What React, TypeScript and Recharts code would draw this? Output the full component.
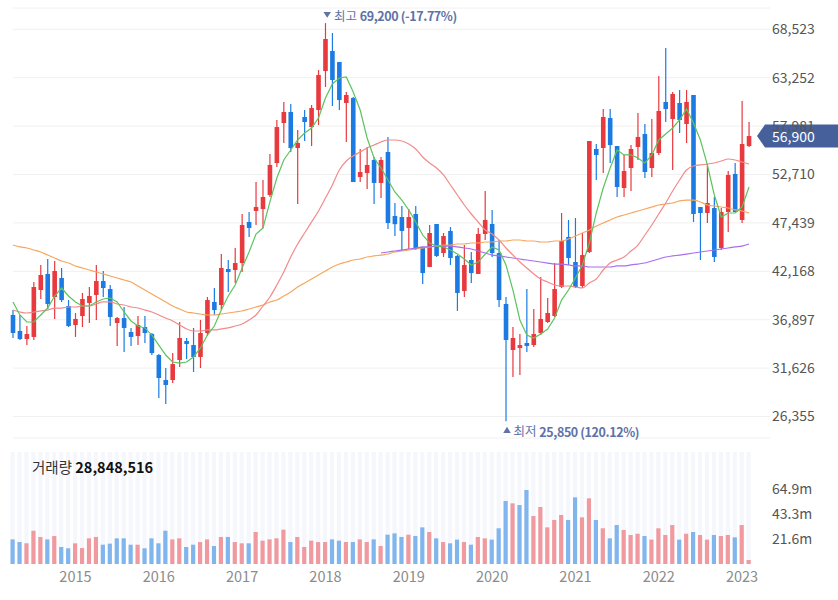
import React from 'react';
import {
  ComposedChart,
  Bar,
  Line,
  XAxis,
  YAxis,
  CartesianGrid,
  ReferenceDot,
  Cell
} from 'recharts';

// monthly candles, Apr 2014 .. Feb 2023
const months = [
  '2014-04', '2014-05', '2014-06', '2014-07', '2014-08', '2014-09', '2014-10', '2014-11', '2014-12',
  '2015-01', '2015-02', '2015-03', '2015-04', '2015-05', '2015-06', '2015-07', '2015-08', '2015-09', '2015-10', '2015-11', '2015-12',
  '2016-01', '2016-02', '2016-03', '2016-04', '2016-05', '2016-06', '2016-07', '2016-08', '2016-09', '2016-10', '2016-11', '2016-12',
  '2017-01', '2017-02', '2017-03', '2017-04', '2017-05', '2017-06', '2017-07', '2017-08', '2017-09', '2017-10', '2017-11', '2017-12',
  '2018-01', '2018-02', '2018-03', '2018-04', '2018-05', '2018-06', '2018-07', '2018-08', '2018-09', '2018-10', '2018-11', '2018-12',
  '2019-01', '2019-02', '2019-03', '2019-04', '2019-05', '2019-06', '2019-07', '2019-08', '2019-09', '2019-10', '2019-11', '2019-12',
  '2020-01', '2020-02', '2020-03', '2020-04', '2020-05', '2020-06', '2020-07', '2020-08', '2020-09', '2020-10', '2020-11', '2020-12',
  '2021-01', '2021-02', '2021-03', '2021-04', '2021-05', '2021-06', '2021-07', '2021-08', '2021-09', '2021-10', '2021-11', '2021-12',
  '2022-01', '2022-02', '2022-03', '2022-04', '2022-05', '2022-06', '2022-07', '2022-08', '2022-09', '2022-10', '2022-11', '2022-12',
  '2023-01', '2023-02'
];

const opens = [
  37410, 35670, 34800, 35020, 40130, 41880, 39370, 41440, 38390, 36320,
  37300, 38720, 39590, 41110, 40240, 36540, 37080, 35560, 35120, 36100,
  35340, 33050, 30330, 30330, 32510, 34580, 34140, 32840, 35450, 38830,
  38500, 42420, 42310, 43070, 47540, 48740, 48950, 50480, 53960, 58320,
  59520, 55600, 58970, 57880, 59740, 63980, 66160, 64960, 60500, 61040,
  52440, 52870, 54290, 51790, 55160, 48190, 48080, 46890, 48410, 44820,
  42640, 47320, 44160, 46560, 43840, 40020, 43400, 41880, 46230, 47320,
  44160, 38610, 33600, 33820, 34360, 34140, 35450, 36650, 37300, 40460,
  45910, 43180, 40570, 44270, 55490, 55600, 58860, 55810, 51240, 53420,
  55710, 57120, 53420, 55050, 60610, 58750, 60500, 58210, 61370, 49170,
  48520, 49060, 44710, 48630, 52770, 47760, 55810
];

const highs = [
  37950, 37410, 36210, 41000, 42860, 43510, 43290, 42530, 39040, 37630,
  39810, 40460, 42860, 42200, 40680, 37190, 38280, 36000, 37300, 37300,
  35450, 33160, 31640, 33270, 36650, 34910, 36000, 36870, 39370, 40350,
  44050, 43400, 44710, 48410, 48630, 51890, 52110, 54940, 58650, 60610,
  60390, 57560, 59740, 60280, 64090, 69200, 68120, 64960, 61700, 61150,
  55500, 55710, 54620, 54620, 56800, 49610, 49280, 48950, 49280, 44820,
  47210, 47320, 46340, 46990, 43940, 45030, 44270, 46890, 50910, 48850,
  45580, 39370, 36100, 35340, 40240, 38060, 41550, 39260, 43070, 48520,
  47760, 47970, 46340, 56360, 56030, 59840, 59840, 55810, 54840, 55920,
  59410, 58210, 58750, 63440, 66490, 61700, 61910, 61910, 61370, 49170,
  53850, 50260, 49060, 53090, 53960, 60720, 58430
];

const lows = [
  34910, 34690, 34140, 34690, 39150, 38060, 36980, 38830, 36100, 35020,
  36100, 36540, 36870, 39370, 36210, 34040, 33380, 34040, 34140, 34360,
  33050, 28370, 27720, 30010, 31750, 32620, 31200, 31640, 35120, 37410,
  37950, 39920, 40900, 42090, 45910, 47210, 46890, 50260, 53530, 56140,
  55160, 49500, 56360, 55810, 58100, 62240, 60170, 59740, 56250, 51890,
  51890, 51130, 49500, 50150, 46780, 46010, 44380, 44600, 44490, 40790,
  42640, 43730, 43730, 42860, 37850, 39370, 40900, 41880, 45580, 43730,
  38280, 25850, 30660, 30880, 33380, 33930, 35230, 36540, 37190, 40350,
  42860, 40350, 40350, 44160, 52110, 52870, 53960, 50260, 50260, 50910,
  54290, 52330, 52440, 54840, 58430, 53200, 57230, 56140, 47540, 43400,
  47430, 43180, 44490, 46450, 48630, 47430, 55700
];

const closes = [
  35450, 34800, 35340, 40460, 41770, 38610, 42200, 39040, 36210, 36980,
  39150, 39480, 41110, 40350, 37190, 37080, 36000, 35020, 36320, 35450,
  33270, 30550, 29790, 32070, 34910, 34250, 32840, 35450, 39040, 37950,
  42530, 42090, 43070, 47210, 46890, 49170, 50260, 53750, 57880, 59520,
  55600, 56140, 58430, 59950, 63550, 67470, 63000, 60820, 61370, 51890,
  52980, 53750, 51790, 54290, 47430, 47300, 46560, 48080, 44600, 41980,
  46340, 43840, 46010, 43620, 39810, 42860, 41980, 46230, 47760, 44160,
  39040, 34690, 34910, 34140, 34040, 35340, 36980, 37630, 40240, 45470,
  43620, 40460, 43940, 56360, 54840, 58970, 55920, 51350, 53090, 55490,
  56800, 52980, 55050, 59630, 59840, 61480, 58650, 60610, 48410, 48520,
  49610, 43730, 48630, 52660, 48630, 56030, 56900
];

// volume, millions
const volumes = [
  21.3, 19.0, 17.9, 28.8, 23.4, 21.3, 24.2, 14.7, 13.6, 17.9,
  13.8, 22.2, 23.4, 16.7, 17.6, 22.2, 22.2, 16.7, 16.7, 13.6,
  22.2, 17.9, 28.8, 21.3, 22.2, 14.7, 16.7, 19.0, 21.3, 15.6,
  23.4, 23.4, 19.0, 17.9, 17.9, 27.7, 20.2, 21.3, 22.2, 29.7,
  19.0, 23.4, 14.7, 20.2, 19.0, 19.0, 21.3, 20.2, 19.0, 19.0,
  21.3, 19.0, 21.3, 15.6, 25.4, 26.5, 23.4, 25.4, 24.2, 31.7,
  27.7, 22.2, 19.0, 17.9, 21.1, 19.0, 16.7, 23.4, 22.2, 21.1,
  30.9, 54.5, 52.5, 51.0, 64.0, 41.5, 49.3, 31.7, 38.1, 42.4,
  38.1, 57.7, 40.4, 56.8, 38.1, 30.9, 22.2, 33.7, 29.4, 25.1,
  26.2, 24.2, 21.1, 30.9, 25.1, 33.7, 21.1, 26.2, 27.7, 25.1,
  21.1, 25.1, 24.2, 25.1, 23.1, 33.7, 3.5
];

const ma5 = [
  38830, 37410, 36650, 36650, 37410, 38170, 39480, 40350, 39480, 38830,
  38390, 38390, 38830, 39150, 39260, 38830, 37740, 36760, 36210, 36000,
  35230, 34140, 33050, 32290, 32180, 32290, 32840, 33820, 35230, 36210,
  37950, 39480, 40680, 42530, 44270, 46230, 46880, 49720, 52330, 54290,
  55380, 56470, 57230, 57780, 58860, 61040, 62570, 63220, 63330, 61700,
  59730, 56690, 54510, 53420, 52110, 50810, 49930, 48850, 47540, 46120,
  45250, 44920, 44820, 44490, 44050, 43510, 42860, 43180, 44050, 44820,
  44490, 42860, 40130, 36870, 35230, 34910, 35340, 35890, 37080, 39040,
  40130, 41440, 42860, 45250, 48520, 51240, 53420, 55380, 54840, 54840,
  54510, 53960, 54840, 56470, 57120, 57780, 58650, 59840, 58320, 56470,
  53750, 50480, 48080, 48520, 48520, 49170, 51350
];

const ma20 = [
  37950, 37740, 37630, 37740, 37850, 37950, 38170, 38170, 38280, 38280,
  38390, 38390, 38610, 38830, 38830, 38610, 38500, 38280, 38170, 37950,
  37740, 37410, 37080, 36760, 36320, 35890, 35670, 35670, 35780, 35780,
  35890, 36000, 36210, 36430, 36870, 37410, 38390, 39370, 40680, 42090,
  43730, 45140, 46340, 47540, 48740, 50150, 51570, 53200, 54180, 54730,
  55160, 55600, 55920, 56250, 56470, 56470, 56360, 56030, 55490, 54620,
  53960, 53420, 52660, 51570, 50480, 49390, 48410, 47540, 46670, 46230,
  45580, 44710, 43940, 43180, 42530, 41880, 41330, 41000, 40680, 40570,
  40570, 40460, 40350, 40900, 41330, 42310, 43070, 43400, 43730, 44380,
  45030, 46120, 47210, 48410, 49610, 50910, 52110, 53200, 53640, 53750,
  53850, 53960, 54180, 54400, 54290, 54070, 53850
];

const ma60 = [
  45030, 44820, 44710, 44490, 44270, 43940, 43620, 43290, 43070, 42750,
  42530, 42310, 42090, 41880, 41660, 41440, 41220, 41000, 40570, 40130,
  39700, 39260, 38830, 38390, 38060, 37740, 37630, 37520, 37410, 37410,
  37520, 37630, 37740, 37850, 38060, 38280, 38500, 38830, 39040, 39480,
  39920, 40460, 40900, 41330, 41770, 42200, 42640, 42960, 43180, 43400,
  43510, 43730, 43840, 43940, 44050, 44270, 44380, 44490, 44600, 44710,
  44820, 44920, 45030, 45030, 45140, 45140, 45250, 45250, 45360, 45360,
  45470, 45470, 45580, 45580, 45470, 45470, 45360, 45360, 45470, 45470,
  45690, 46010, 46340, 46670, 47100, 47430, 47760, 48080, 48300, 48520,
  48740, 48950, 49170, 49390, 49500, 49610, 49830, 49930, 49930, 49720,
  49390, 49280, 49170, 49060, 48850, 48740, 48520
];

// 120-month line only starts in autumn 2018
const ma120 = [
  ...Array(53).fill(null),
  44160, 44270, 44380, 44490, 44600, 44710, 44820, 44820, 44920, 44920,
  44920, 44820, 44710, 44600, 44380, 44160, 43940, 43840, 43730, 43620,
  43510, 43400, 43290, 43180, 43070, 42960, 42960, 42860, 42750, 42750,
  42640, 42640, 42640, 42640, 42750, 42750, 42860, 42960, 43070, 43290,
  43510, 43730, 43840, 43940, 44050, 44160, 44270, 44380, 44490, 44600,
  44710, 44820, 44920, 45140
];

const priceTicks = [26355, 31626, 36897, 42168, 47439, 52710, 57981, 63252, 68523];
const volumeTicks = [21630000, 43260000, 64890000];

const RED = '#e8393e';
const BLUE = '#1b7be3';
const VOL_RED = '#f09aa0';
const VOL_BLUE = '#80b5ee';
const NOTE = '#6072a8';
const FONT = '"Noto Sans CJK KR", "Noto Sans", sans-serif';

const data = months.map((m, i) => ({
  month: m,
  open: opens[i],
  high: highs[i],
  low: lows[i],
  close: closes[i],
  range: [lows[i], highs[i]],
  volume: volumes[i] * 1000000,
  up: i === 0 ? closes[i] >= opens[i] : closes[i] > closes[i - 1],
  ma5: ma5[i],
  ma20: ma20[i],
  ma60: ma60[i],
  ma120: ma120[i]
}));

const margin = { top: 8, right: 5.5, left: 9.5, bottom: 2 };

const Candle = (props: any) => {
  const { x, y, width, height, payload } = props;
  const { open, close, high, low } = payload;
  const cx = x + width / 2;
  const top = Math.min(y, y + height);
  const h = Math.abs(height);
  const k = high === low ? 0 : h / (high - low);
  const bodyTop = top + (high - Math.max(open, close)) * k;
  const bodyH = Math.max(1, Math.abs(open - close) * k);
  const color = close >= open ? RED : BLUE;
  return (
    <g>
      <line x1={cx} x2={cx} y1={top} y2={top + h} stroke={color} strokeWidth={1.2} />
      <rect x={cx - 2.3} y={bodyTop} width={4.6} height={bodyH} fill={color} />
    </g>
  );
};

const HighNote = ({ cx, cy }: any) => (
  <g>
    <polygon points={`${cx - 2},${cy - 11} ${cx + 5.5},${cy - 11} ${cx + 1.75},${cy - 5.3}`} fill={NOTE} />
    <text x={cx + 8.5} y={cy - 7.8} dominantBaseline="central" fontSize={12.5} fill={NOTE} fontFamily={FONT}>
      최고 <tspan fontWeight="bold" letterSpacing={-0.4}>69,200 (-17.77%)</tspan>
    </text>
  </g>
);

const LowNote = ({ cx, cy }: any) => (
  <g>
    <polygon points={`${cx + 1},${cy + 5.5} ${cx + 4.75},${cy + 11.8} ${cx - 2.75},${cy + 11.8}`} fill={NOTE} />
    <text x={cx + 7.5} y={cy + 9.8} dominantBaseline="central" fontSize={12.5} fill={NOTE} fontFamily={FONT}>
      최저 <tspan fontWeight="bold" letterSpacing={-0.4}>25,850 (120.12%)</tspan>
    </text>
  </g>
);

const PriceTag = ({ cx, cy }: any) => (
  <g>
    <polygon
      points={`${cx + 8},${cy} ${cx + 16},${cy - 11.5} 838,${cy - 11.5} 838,${cy + 11.5} ${cx + 16},${cy + 11.5}`}
      fill="#45609b"
    />
    <text x={cx + 23} y={cy} dominantBaseline="central" fontSize={14} fill="#ffffff" fontFamily={FONT}>
      56,900
    </text>
  </g>
);

const App: React.FC = () => {
  return (
    <div style={{ position: 'absolute', left: 0, top: 0, width: 838, height: 600, background: '#fff', fontFamily: FONT }}>
      <ComposedChart width={838} height={440} data={data} margin={margin}>
        <CartesianGrid vertical={false} stroke="#f0f0f0" x={13} width={757} />
        <XAxis dataKey="month" hide />
        <YAxis
          orientation="right"
          width={80}
          domain={[24016, 70843]}
          allowDataOverflow
          ticks={priceTicks}
          tickFormatter={(v: number) => v.toLocaleString('en-US')}
          axisLine={false}
          tickLine={false}
          tickSize={6}
          tickMargin={13.5}
          tick={{ fontSize: 14, fill: '#555', fontFamily: FONT }}
        />
        <Line dataKey="ma60" type="monotone" stroke="#f5a75f" strokeWidth={1.2} dot={false} activeDot={false} isAnimationActive={false} />
        <Line dataKey="ma120" type="monotone" stroke="#a96ef0" strokeWidth={1.2} dot={false} activeDot={false} isAnimationActive={false} />
        <Line dataKey="ma20" type="monotone" stroke="#f28a8a" strokeWidth={1.2} dot={false} activeDot={false} isAnimationActive={false} />
        <Line dataKey="ma5" type="linear" stroke="#5cc35e" strokeWidth={1.2} dot={false} activeDot={false} isAnimationActive={false} />
        <Bar dataKey="range" barSize={5} shape={<Candle />} isAnimationActive={false} />
        <ReferenceDot x="2018-01" y={69200} r={0} ifOverflow="visible" shape={(p: any) => <HighNote {...p} />} />
        <ReferenceDot x="2020-03" y={25850} r={0} ifOverflow="visible" shape={(p: any) => <LowNote {...p} />} />
        <ReferenceDot x="2023-02" y={56900} r={0} ifOverflow="visible" shape={(p: any) => <PriceTag {...p} />} />
      </ComposedChart>

      <div style={{ position: 'absolute', left: 0, top: 440 }}>
        <ComposedChart width={838} height={160} data={data} margin={{ top: 12, right: 5.5, left: 9.5, bottom: 0 }}>
          <XAxis
            dataKey="month"
            height={36}
            interval={0}
            axisLine={false}
            tickLine={false}
            tickFormatter={(m: string) => (m.endsWith('-01') ? m.slice(0, 4) : '')}
            tick={{ fontSize: 14.5, fill: '#8c8c8c', fontFamily: FONT }}
          />
          <YAxis
            orientation="right"
            width={80}
            domain={[0, 96900000]}
            allowDataOverflow
            ticks={volumeTicks}
            tickFormatter={(v: number) => (v / 1000000).toFixed(1) + 'm'}
            axisLine={false}
            tickLine={false}
            tickSize={6}
            tickMargin={13.5}
            tick={{ fontSize: 14, fill: '#555', fontFamily: FONT }}
          />
          <Bar dataKey="volume" barSize={4.2} background={{ fill: '#f5f7fc' }} isAnimationActive={false}>
            {data.map((d, i) => (
              <Cell key={`v-${i}`} fill={d.up ? VOL_RED : VOL_BLUE} />
            ))}
          </Bar>
        </ComposedChart>
      </div>

      <div style={{ position: 'absolute', left: 32, top: 456, fontSize: 14.5, lineHeight: '22px', color: '#333', whiteSpace: 'nowrap' }}>
        거래량 <span style={{ fontWeight: 'bold', color: '#111' }}>28,848,516</span>
      </div>
    </div>
  );
};

export default App;
